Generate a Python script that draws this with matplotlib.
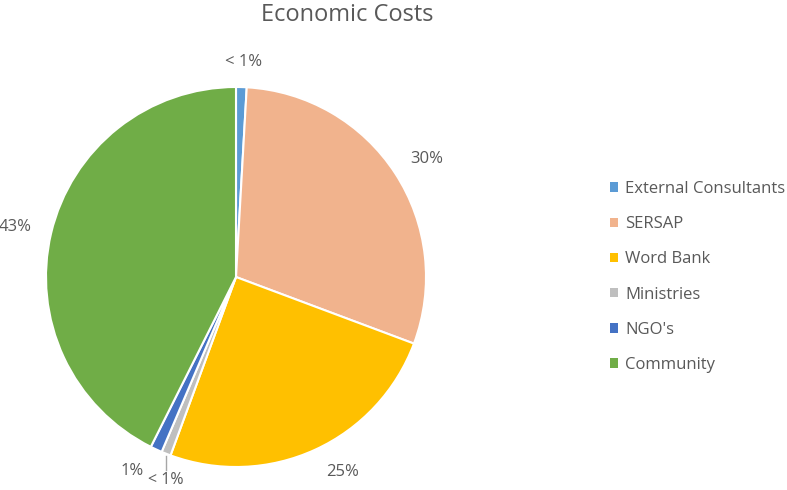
import numpy as np
import matplotlib
matplotlib.use("Agg")
import matplotlib.pyplot as plt

# values (percent of total)
names = ["External Consultants", "SERSAP", "Word Bank", "Ministries", "NGO's", "Community"]
shares = [0.9, 29.8, 24.9, 0.8, 1.0, 42.6]
pctLabels = ["< 1%", "30%", "25%", "< 1%", "1%", "43%"]
colours = ["#5B9BD5", "#F1B38D", "#FFC000", "#BFBFBF", "#4472C4", "#70AD47"]

txtCol = "#595959"
plt.rcParams['font.family'] = ['Open Sans', 'DejaVu Sans']

fig = plt.figure(figsize=(7.87, 4.90), dpi=100)
R = 190
cx, cy = 236, 490 - 277
ax = fig.add_axes([(cx - R) / 787, (cy - R) / 490, 2 * R / 787, 2 * R / 490])

wedges, _ = ax.pie(shares, colors=colours, startangle=90, counterclock=False,
                   wedgeprops=dict(edgecolor="white", linewidth=1.5))
ax.set_xlim(-1, 1)
ax.set_ylim(-1, 1)
ax.set_aspect("equal")
ax.axis("off")

# data labels outside each slice (distance and small angle nudge, clockwise degrees)
dists = [1.13, 1.18, 1.17, 1.0, 1.16, 1.19]
nudge = [0.5, 1.4, -4.0, 0.0, 3.3, -0.5]
for w, lab, d, n in zip(wedges, pctLabels, dists, nudge):
  ang = np.deg2rad((w.theta1 + w.theta2) / 2 - n)
  x, y = np.cos(ang), np.sin(ang)
  if lab == "< 1%" and y < 0:
    # leader line straight down from the thin slice
    ax.plot([x, x], [y - 0.01, y - 0.085], color="#A6A6A6", lw=1.0, clip_on=False)
    ax.text(x, y - 0.14, lab, ha="center", va="center", fontsize=11.5, color=txtCol)
  else:
    ax.text(x * d, y * d, lab, ha="center", va="center", fontsize=12, color=txtCol)

fig.text(347 / 787, 1 - 15 / 490, "Economic Costs", ha="center", va="center",
         fontsize=17, color=txtCol)

leg = fig.legend(wedges, names, loc="center left", bbox_to_anchor=(595 / 787, 1 - 277 / 490),
                 frameon=False, handlelength=0.5, handleheight=0.5, handletextpad=0.4,
                 labelspacing=1.15, fontsize=12)
for t in leg.get_texts():
  t.set_color(txtCol)
for h in leg.legend_handles:
  h.set_edgecolor("none")

fig.savefig("out.png", dpi=100)
